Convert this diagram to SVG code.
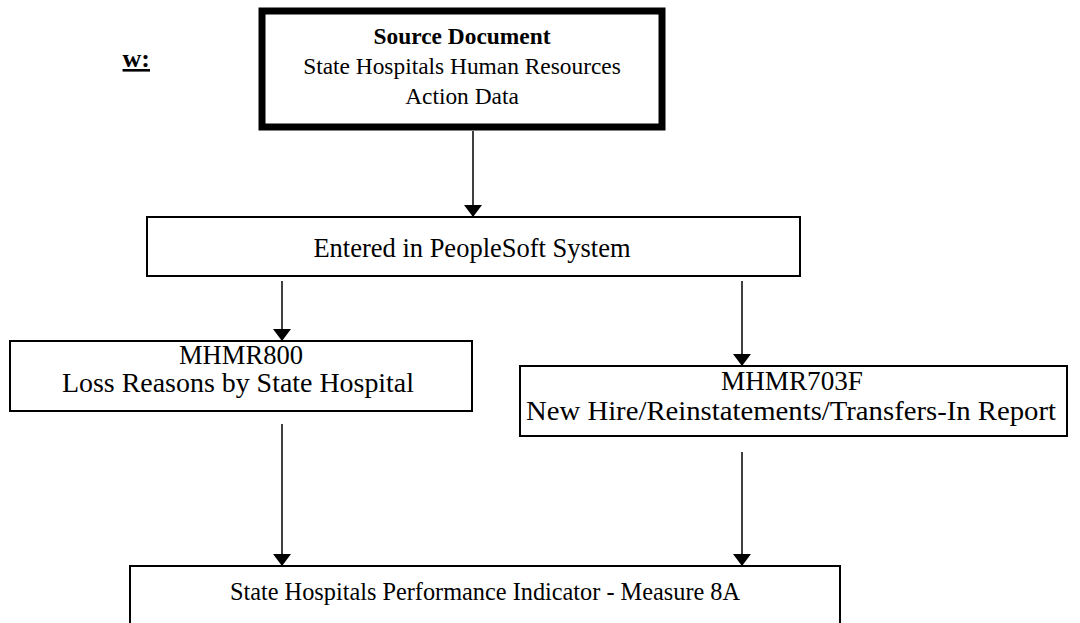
<svg xmlns="http://www.w3.org/2000/svg" width="1080" height="623" viewBox="0 0 1080 623">
  <style>
    .box { fill: #ffffff; stroke: #000000; stroke-width: 2; }
    .src { fill: #ffffff; stroke: #000000; stroke-width: 7; }
    .t { font-family: "Liberation Serif", "Times New Roman", serif; fill: #000000; text-anchor: middle; }
    .b { font-weight: bold; }
    .edge { stroke: #000000; stroke-width: 1.5; fill: none; marker-end: url(#arrow); }
  </style>
  <defs>
    <marker id="arrow" viewBox="0 0 12 18" refX="12" refY="9" markerWidth="12" markerHeight="18" markerUnits="userSpaceOnUse" orient="auto">
      <path d="M0,0 L12,9 L0,18 Z" fill="#000000"/>
    </marker>
    <clipPath id="head-clip">
      <rect x="114" y="36" width="60" height="44"/>
    </clipPath>
  </defs>
  <rect width="1080" height="623" fill="#ffffff"/>

  <!-- page heading fragment -->
  <text x="150" y="67" clip-path="url(#head-clip)" font-family="Liberation Serif, serif" font-size="26" font-weight="bold" text-anchor="end" text-decoration="underline">w:</text>

  <g id="connectors">
    <line class="edge" x1="473" y1="131" x2="473" y2="217"/>
    <line class="edge" x1="282" y1="281" x2="282" y2="341"/>
    <line class="edge" x1="742" y1="281" x2="742" y2="366"/>
    <line class="edge" x1="282" y1="424" x2="282" y2="566"/>
    <line class="edge" x1="742" y1="452" x2="742" y2="566"/>
  </g>

  <g id="source-document" font-size="23.4">
    <rect class="src" x="262" y="11" width="400" height="116"/>
    <text class="t b" x="462" y="44">Source Document</text>
    <text class="t" x="462" y="74">State Hospitals Human Resources</text>
    <text class="t" x="462" y="104">Action Data</text>
  </g>

  <g id="peoplesoft" font-size="26.5">
    <rect class="box" x="147" y="217" width="653" height="59"/>
    <text class="t" x="472" y="257">Entered in PeopleSoft System</text>
  </g>

  <g id="mhmr800" font-size="27">
    <rect class="box" x="10" y="341" width="462" height="70"/>
    <text class="t" x="241" y="364" textLength="124" lengthAdjust="spacingAndGlyphs">MHMR800</text>
    <text class="t" x="238" y="392" textLength="352" lengthAdjust="spacingAndGlyphs">Loss Reasons by State Hospital</text>
  </g>

  <g id="mhmr703f" font-size="27">
    <rect class="box" x="520" y="366" width="547" height="70"/>
    <text class="t" x="792" y="390" textLength="142" lengthAdjust="spacingAndGlyphs">MHMR703F</text>
    <text class="t" x="791" y="420" textLength="530" lengthAdjust="spacingAndGlyphs">New Hire/Reinstatements/Transfers-In Report</text>
  </g>

  <g id="measure-8a" font-size="24.3">
    <rect class="box" x="130" y="566" width="710" height="70"/>
    <text class="t" x="485" y="600">State Hospitals Performance Indicator - Measure 8A</text>
  </g>
</svg>
